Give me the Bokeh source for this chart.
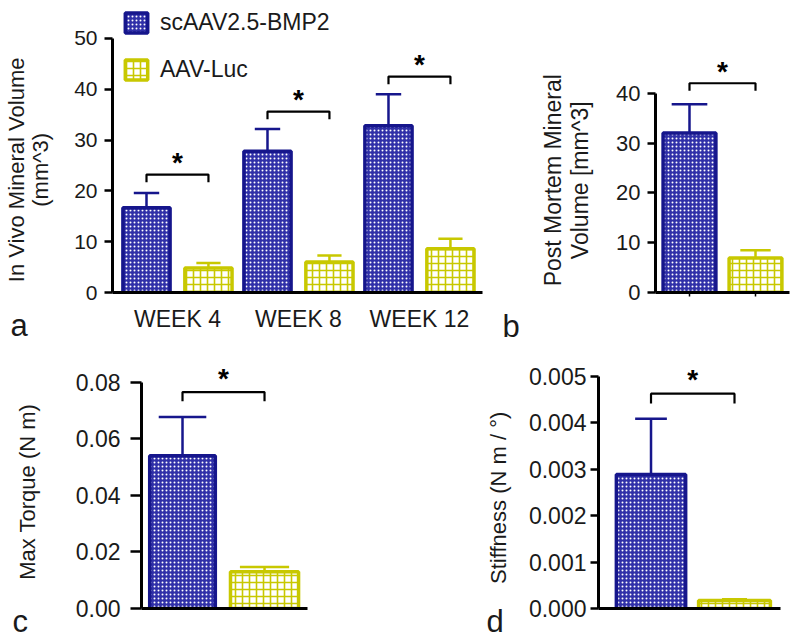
from bokeh.plotting import figure
from bokeh.layouts import column, row
from bokeh.models import Legend, LegendItem, FixedTicker, Range1d, Title
from bokeh.core.properties import value
from bokeh.embed import file_html
from bokeh.resources import INLINE

# ---------------- data ----------------
weeks = ["WEEK 4", "WEEK 8", "WEEK 12"]
week_pos = [1, 2, 3]
bmp2_invivo = [16.7, 27.8, 32.8]
bmp2_invivo_sem = [2.9, 4.4, 6.2]
luc_invivo = [4.8, 6.0, 8.6]
luc_invivo_sem = [1.0, 1.3, 2.0]
sig_invivo = [23.2, 35.6, 42.5]

bmp2_postmortem = [32.0]
bmp2_postmortem_sem = [5.8]
luc_postmortem = [6.9]
luc_postmortem_sem = [1.6]
sig_postmortem = [42.0]

bmp2_torque = [0.054]
bmp2_torque_sem = [0.0137]
luc_torque = [0.013]
luc_torque_sem = [0.0017]
sig_torque = [0.0765]

bmp2_stiff = [0.00289]
bmp2_stiff_sem = [0.0012]
luc_stiff = [0.00017]
luc_stiff_sem = [0.00003]
sig_stiff = [0.00463]

series_names = ["scAAV2.5-BMP2", "AAV-Luc"]

# ---------------- style ----------------
FONT = "Liberation Sans"
TXT = "#1a1a1a"
NAVY = "#16168c"
NAVY_FILL = "#3030a8"
YEL = "#c8c800"


def make_fig(width, height, left, right, top, bottom, xr, yr):
    p = figure(width=width, height=height, x_range=Range1d(*xr), y_range=Range1d(*yr),
               output_backend="svg", toolbar_location=None,
               min_border_left=left, min_border_right=right,
               min_border_top=top, min_border_bottom=bottom)
    p.outline_line_color = None
    p.xgrid.visible = False
    p.ygrid.visible = False
    for ax in (p.xaxis[0], p.yaxis[0]):
        ax.axis_line_width = 3
        ax.axis_line_color = "black"
        ax.major_tick_line_width = 2.5
        ax.major_tick_line_color = "black"
        ax.minor_tick_line_color = None
        ax.major_label_text_font = FONT
        ax.major_label_text_color = TXT
        ax.axis_label_text_font = FONT
        ax.axis_label_text_font_style = "normal"
        ax.axis_label_text_color = TXT
    p.yaxis.major_tick_in = 0
    p.yaxis.major_tick_out = 8
    p.yaxis.major_label_standoff = 7
    p.yaxis.major_label_text_font_size = "22px"
    p.yaxis.axis_label_text_font_size = "22px"
    p.yaxis.axis_label_text_line_height = 1.0
    p.xaxis.major_tick_in = 0
    p.xaxis.major_tick_out = 0
    return p


def bars(p, xs, vals, sems, width, cap, blue):
    col = NAVY if blue else YEL
    err_top = [v + s for v, s in zip(vals, sems)]
    p.segment(x0=xs, y0=vals, x1=xs, y1=err_top, line_color=col, line_width=2.5)
    p.segment(x0=[x - cap for x in xs], y0=err_top, x1=[x + cap for x in xs], y1=err_top,
              line_color=col, line_width=2.5)
    if blue:
        r = p.vbar(x=xs, top=vals, width=width, bottom=0, fill_color=NAVY_FILL,
                   hatch_pattern="dot", hatch_color="white", hatch_scale=4, hatch_weight=1.4,
                   line_color=NAVY, line_width=3.5)
    else:
        r = p.vbar(x=xs, top=vals, width=width, bottom=0, fill_color="white",
                   hatch_pattern="cross", hatch_color=YEL, hatch_scale=7, hatch_weight=1.6,
                   line_color=YEL, line_width=3.5)
    return r


def brackets(p, x0s, x1s, ys, drop, star_offset):
    xs = [[a, a, b, b] for a, b in zip(x0s, x1s)]
    yy = [[y - drop, y, y, y - drop] for y in ys]
    p.multi_line(xs=xs, ys=yy, line_color="black", line_width=2.2)
    p.text(x=[(a + b) / 2 for a, b in zip(x0s, x1s)], y=ys, text=["*"] * len(ys),
           text_font=value(FONT), text_font_size="28px", text_font_style="bold",
           text_align="center", text_baseline="middle", y_offset=star_offset, text_color="black")


def panel_letter(p, t, offset, standoff, valign):
    p.add_layout(Title(text=t, align="left", vertical_align=valign, offset=offset,
                       standoff=standoff, text_font=FONT, text_font_size="31px",
                       text_font_style="normal", text_color=TXT), "below")


def pad(s, n):
    # trailing spaces shift the rotated label downward along the axis
    return s + "\u00a0" * n


# ---------------- panel a ----------------
off = 0.256
pa = make_fig(490, 340, 112, 8, 10, 48, (0.463, 3.521), (0, 55.5))
pa.yaxis.bounds = (0, 50)
pa.yaxis.ticker = FixedTicker(ticks=[0, 10, 20, 30, 40, 50])
pa.yaxis.major_label_text_font_size = "21px"
pa.yaxis.axis_label = pad("In Vivo Mineral Volume", 6) + "\n" + pad("(mm^3)", 6)
pa.yaxis.axis_label_text_line_height = 0.95
pa.yaxis.axis_label_standoff = 18
pa.xaxis.ticker = FixedTicker(ticks=week_pos)
pa.xaxis.major_label_overrides = {p: w for p, w in zip(week_pos, weeks)}
pa.xaxis.major_label_text_font_size = "23px"
pa.xaxis.major_label_standoff = 13
ra1 = bars(pa, [x - off for x in week_pos], bmp2_invivo, bmp2_invivo_sem, 0.39, 0.105, True)
ra2 = bars(pa, [x + off for x in week_pos], luc_invivo, luc_invivo_sem, 0.39, 0.1, False)
brackets(pa, [x - off for x in week_pos], [x + off for x in week_pos], sig_invivo, 1.5, -12)
leg = Legend(items=[LegendItem(label=series_names[0], renderers=[ra1]),
                    LegendItem(label=series_names[1], renderers=[ra2])],
             location=(10, 209), padding=0, margin=0, spacing=20,
             glyph_width=28, glyph_height=25, label_height=25, label_standoff=10,
             label_text_font=FONT, label_text_font_size="23px", label_text_color=TXT,
             border_line_color=None, background_fill_alpha=0)
pa.add_layout(leg)
panel_letter(pa, "a", -102, -53, "top")

# ---------------- panel b ----------------
pb = make_fig(310, 340, 165, 11, 10, 48, (0.485, 2.515), (0, 56.6))
pb.yaxis.bounds = (0, 40)
pb.yaxis.ticker = FixedTicker(ticks=[0, 10, 20, 30, 40])
pb.yaxis.axis_label = pad("Post Mortem Mineral", 9) + "\n" + pad("Volume [mm^3]", 9)
pb.yaxis.axis_label_text_font_size = "23px"
pb.yaxis.axis_label_text_line_height = 1.05
pb.yaxis.axis_label_standoff = 20
pb.xaxis.ticker = FixedTicker(ticks=[1, 2])
pb.xaxis.major_label_overrides = {1: " ", 2: " "}
pb.xaxis.major_label_text_font_size = "23px"
pb.xaxis.major_label_standoff = 9
pb.xaxis.major_tick_out = 4
pb.xaxis.major_tick_line_width = 1.5
bars(pb, [1], bmp2_postmortem, bmp2_postmortem_sem, 0.8, 0.27, True)
bars(pb, [2], luc_postmortem, luc_postmortem_sem, 0.8, 0.23, False)
brackets(pb, [1], [2], sig_postmortem, 1.5, -12)
panel_letter(pb, "b", -153, -51, "top")

# ---------------- panel c ----------------
pc = make_fig(480, 293, 141, 173, 10, 25, (0.5, 2.524), (0, 0.0912))
pc.yaxis.bounds = (0, 0.08)
pc.yaxis.ticker = FixedTicker(ticks=[0, 0.02, 0.04, 0.06, 0.08])
pc.yaxis.major_label_overrides = {0: "0.00", 0.02: "0.02", 0.04: "0.04", 0.06: "0.06", 0.08: "0.08"}
pc.yaxis.major_label_text_font_size = "23px"
pc.yaxis.major_tick_out = 11
pc.yaxis.major_label_standoff = 10
pc.yaxis.axis_label = pad("Max Torque (N m)", 4)
pc.yaxis.axis_label_standoff = 33
pc.xaxis.ticker = FixedTicker(ticks=[])
bars(pc, [1], bmp2_torque, bmp2_torque_sem, 0.8, 0.29, True)
bars(pc, [2], luc_torque, luc_torque_sem, 0.83, 0.3, False)
brackets(pc, [1], [2], sig_torque, 0.0032, -14)
panel_letter(pc, "c", -129, -13, "bottom")

# ---------------- panel d ----------------
pd_ = make_fig(320, 293, 118, 20, 10, 25, (0.371, 2.551), (0, 0.00556))
pd_.yaxis.bounds = (0, 0.005)
pd_.yaxis.ticker = FixedTicker(ticks=[0, 0.001, 0.002, 0.003, 0.004, 0.005])
pd_.yaxis.major_label_overrides = {0: "0.000", 0.001: "0.001", 0.002: "0.002",
                                   0.003: "0.003", 0.004: "0.004", 0.005: "0.005"}
pd_.yaxis.major_label_text_font_size = "23px"
pd_.yaxis.major_label_standoff = 4
pd_.yaxis.axis_label = pad("Stiffness (N m / °)", 6)
pd_.yaxis.axis_label_text_font_size = "22px"
pd_.yaxis.axis_label_standoff = 15
pd_.xaxis.ticker = FixedTicker(ticks=[])
bars(pd_, [1], bmp2_stiff, bmp2_stiff_sem, 0.83, 0.19, True)
bars(pd_, [2], luc_stiff, luc_stiff_sem, 0.86, 0.15, False)
brackets(pd_, [1], [2], sig_stiff, 0.00021, -14)
panel_letter(pd_, "d", -112, -13, "bottom")

layout = column(row(pa, pb), row(pc, pd_))
open("out.html", "w").write(file_html(layout, INLINE))
